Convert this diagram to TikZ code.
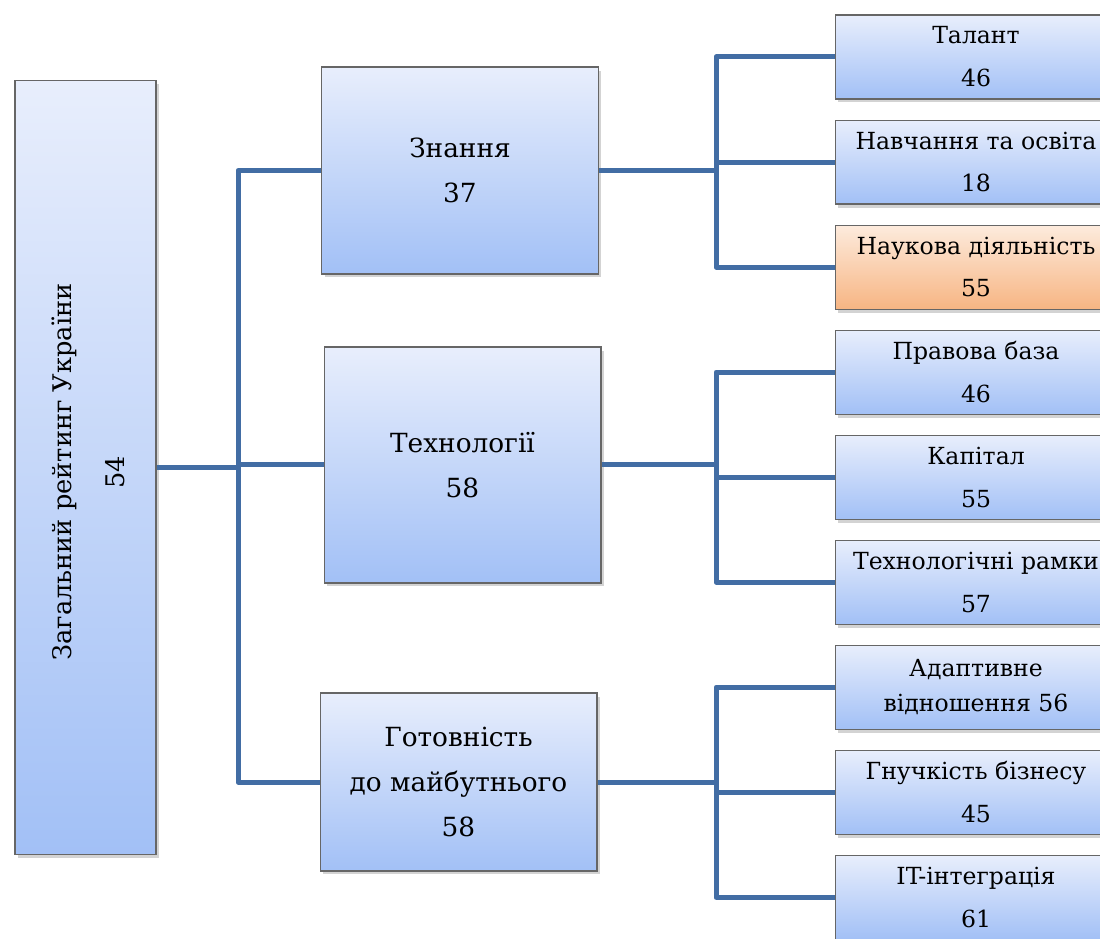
\documentclass[tikz,border=0pt]{standalone}
\usepackage{fontspec}
\setmainfont{DejaVu Serif}
\usepackage{xcolor}
\usetikzlibrary{positioning, shadows}

\definecolor{boxtop}{HTML}{E8EEFC}
\definecolor{boxbot}{HTML}{A2C0F6}
\definecolor{hottop}{HTML}{FDEBDD}
\definecolor{hotbot}{HTML}{F7B583}
\definecolor{linkblue}{HTML}{426DA4}

\tikzset{
    box/.style={draw=gray!80!black, line width=0.6pt, top color=boxtop, bottom color=boxbot,
        align=center, inner sep=0pt,
        drop shadow={shadow xshift=0.06cm, shadow yshift=-0.07cm, opacity=0.35}},
    big/.style={box, minimum width=5.54cm, font=\fontsize{15}{25.5}\selectfont},
    small/.style={box, minimum width=5.64cm, minimum height=1.68cm, font=\fontsize{13.4}{24.4}\selectfont},
    hot/.style={top color=hottop, bottom color=hotbot},
    link/.style={draw=linkblue, line width=0.1cm, line join=round}
}

\begin{document}
\begin{tikzpicture}[x=0.02cm, y=-0.02cm, node distance=0.4cm]
        \useasboundingbox (0,0) rectangle (1100,939);
        \clip (0,0) rectangle (1100,939);

        \node[box, minimum width=2.82cm, minimum height=15.5cm] (0) at (85.5,467.5) {};
        \node[rotate=90, align=center, font=\fontsize{14.6}{30}\selectfont] (0t) at (88.5,472) {Загальний рейтинг України\\54};

        \node[big, minimum height=4.14cm] (k) at (460,170.5) {Знання\\37};
        \node[big, minimum height=4.72cm] (t) at (462.5,465) {Технології\\58};
        \node[big, minimum height=3.56cm] (g) at (458.5,782) {Готовність\\до майбутнього\\58};

        \node[small]                (k1) at (976,57) {Талант\\46};
        \node[small, below=of k1]   (k2) {Навчання та освіта\\18};
        \node[small, hot, below=of k2] (k3) {Наукова діяльність\\55};
        \node[small, below=of k3]   (t1) {Правова база\\46};
        \node[small, below=of t1]   (t2) {Капітал\\55};
        \node[small, below=of t2]   (t3) {Технологічні рамки\\57};
        \node[small, below=of t3, font=\fontsize{13.4}{20}\selectfont] (g1) {Адаптивне\\відношення 56};
        \node[small, below=of g1]   (g2) {Гнучкість бізнесу\\45};
        \node[small, below=of g2]   (g3) {IT-інтеграція\\61};

        \coordinate (s0) at (238,0);
        \coordinate (s1) at (716,0);

        \draw[link] (0.east |- 0,468) -- (s0 |- 0,468);
        \draw[link] (k.west) -| (s0 |- g.west) -- (g.west);
        \draw[link] (s0 |- t.west) -- (t.west);

        \foreach \p in {k, t, g} {
            \draw[link] (\p.east) -- (s1 |- \p.east);
            \draw[link] (\p1.west) -| (s1 |- \p3.west) -- (\p3.west);
            \draw[link] (s1 |- \p2.west) -- (\p2.west);
        }
\end{tikzpicture}
\end{document}
